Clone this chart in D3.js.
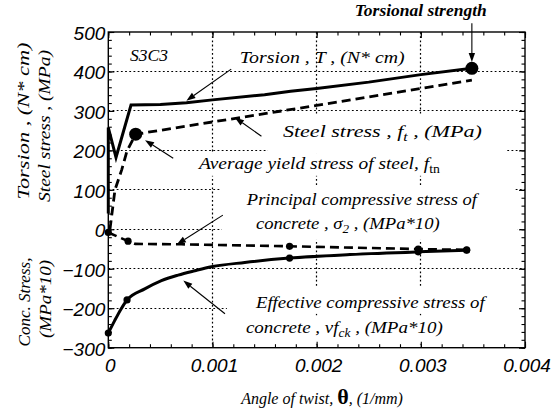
<!DOCTYPE html>
<html>
<head>
<meta charset="utf-8">
<script src="https://cdn.jsdelivr.net/npm/d3@7/dist/d3.min.js"></script>
</head>
<body style="margin:0;background:#fff">
<svg id="chart" width="553" height="415" style="display:block"></svg>
<script>
// ---- data: angle of twist θ (1/mm) vs. value ----
const xTicks = [0, 0.001, 0.002, 0.003, 0.004];
const xTickLabels = ["0", "0.001", "0.002", "0.003", "0.004"];
const yTicks = [500, 400, 300, 200, 100, 0, -100, -200, -300];
const yTickLabels = ["500", "400", "300", "200", "100", "0", "\u2212100", "\u2212200", "\u2212300"];

// Torsion T (N*cm)
const torsionTheta = [0, 0, 0.000074, 0.000218, 0.0005, 0.00075, 0.001, 0.0015, 0.00175, 0.002, 0.0025, 0.003, 0.00349];
const torsionValue = [40, 258, 182, 315, 316, 321, 328, 341, 350, 357, 373, 392, 408];

// Steel stress f_t (MPa)
const steelTheta = [0.000016, 0.000064, 0.00013, 0.00018, 0.000263, 0.001, 0.002, 0.003, 0.00349];
const steelValue = [0, 100, 152, 199, 241, 272, 314, 357, 378];

// Principal compressive stress of concrete σ2 (MPa*10)
const sigma2Theta = [0, 0.00019, 0.00026, 0.0007, 0.00174, 0.002975, 0.00344];
const sigma2Value = [-8, -30, -37, -38, -43, -50, -52];
const sigma2MarkerIdx = [0, 1, 4, 5, 6];

// Effective compressive stress of concrete vf_ck (MPa*10)
const effTheta = [0, 0.00006, 0.00012, 0.00018, 0.00035, 0.00051, 0.00067, 0.00083, 0.00099, 0.00131, 0.00174, 0.00232, 0.002975, 0.00344];
const effValue = [-263, -232, -203, -179, -151, -130, -116, -105, -95, -84, -73, -64, -57, -53];
const effMarkerIdx = [0, 3, 10, 12, 13];

// Highlighted points
const yieldPoint = [0.000263, 241];      // average yield stress of steel
const strengthPoint = [0.00349, 408];    // torsional strength

const zip = (a, b) => a.map((v, i) => [v, b[i]]);

// ---- layout ----
const svg = d3.select("#chart");
const X0 = 108.3, X1 = 525, Y0 = 347.7, Y1 = 32;
const x = d3.scaleLinear().domain([0, 0.004]).range([X0, X1]);
const y = d3.scaleLinear().domain([-300, 500]).range([Y0, Y1]);
const SERIF = "Liberation Serif";
const SANS = "Liberation Sans";
const px5 = v => Math.round(v - 0.5) + 0.5;

// dotted grid
function gridLine(x1, y1, x2, y2) {
  svg.append("line").attr("x1", x1).attr("y1", y1).attr("x2", x2).attr("y2", y2)
    .attr("stroke", "#000").attr("stroke-width", 1.2).attr("stroke-dasharray", "1.8,2.4");
}
xTicks.slice(1, -1).forEach(d => gridLine(px5(x(d)), Y1, px5(x(d)), Y0));
yTicks.slice(1, -1).forEach(d => gridLine(X0, px5(y(d)), X1, px5(y(d))));

// label layer (white boxes hide grid behind text)
const labelLayer = svg.append("g");

// axes with inward ticks
const xMinor = d3.range(0, 0.0040001, 0.0002);
const yMinor = d3.range(-300, 500.1, 20);
function axisSet(axisFn, scale, ticks, size, transform) {
  svg.append("g").attr("transform", transform)
    .call(axisFn(scale).tickValues(ticks).tickSize(-size).tickFormat(""))
    .call(g => g.select(".domain").remove())
    .call(g => g.selectAll("line").attr("stroke", "#000").attr("stroke-width", 1.1));
}
axisSet(d3.axisBottom, x, xTicks, 6, `translate(0,${Y0})`);
axisSet(d3.axisBottom, x, xMinor, 3.5, `translate(0,${Y0})`);
axisSet(d3.axisTop, x, xTicks, 6, `translate(0,${Y1})`);
axisSet(d3.axisTop, x, xMinor, 3.5, `translate(0,${Y1})`);
axisSet(d3.axisLeft, y, yTicks, 6, `translate(${X0},0)`);
axisSet(d3.axisLeft, y, yMinor, 3.5, `translate(${X0},0)`);
axisSet(d3.axisRight, y, yTicks, 6, `translate(${X1},0)`);
axisSet(d3.axisRight, y, yMinor, 3.5, `translate(${X1},0)`);

svg.append("rect").attr("x", X0).attr("y", Y1).attr("width", X1 - X0).attr("height", Y0 - Y1)
  .attr("fill", "none").attr("stroke", "#000").attr("stroke-width", 1.4);

// tick labels
xTicks.forEach((d, i) => {
  svg.append("text").attr("font-family", SANS).attr("font-style", "italic").attr("font-size", 19)
    .attr("x", x(d) + 2).attr("y", Y0 + 24).attr("text-anchor", "middle").text(xTickLabels[i]);
});
yTicks.forEach((d, i) => {
  svg.append("text").attr("font-family", SANS).attr("font-style", "italic").attr("font-size", 19)
    .attr("x", X0 - 3).attr("y", y(d) + 8).attr("text-anchor", "end").text(yTickLabels[i]);
});

// ---- series ----
const line = d3.line().x(d => x(d[0])).y(d => y(d[1]));
const smooth = d3.line().x(d => x(d[0])).y(d => y(d[1])).curve(d3.curveMonotoneX);

svg.append("path").datum(zip(effTheta, effValue)).attr("d", smooth)
  .attr("fill", "none").attr("stroke", "#000").attr("stroke-width", 3);
svg.append("path").datum(zip(sigma2Theta, sigma2Value)).attr("d", line)
  .attr("fill", "none").attr("stroke", "#000").attr("stroke-width", 2.6)
  .attr("stroke-dasharray", "9,5");
svg.append("path").datum(zip(steelTheta, steelValue)).attr("d", line)
  .attr("fill", "none").attr("stroke", "#000").attr("stroke-width", 2.8)
  .attr("stroke-dasharray", "9,5");
svg.append("path").datum(zip(torsionTheta, torsionValue)).attr("d", line)
  .attr("fill", "none").attr("stroke", "#000").attr("stroke-width", 3)
  .attr("stroke-linejoin", "miter");

sigma2MarkerIdx.forEach(i => svg.append("circle")
  .attr("cx", x(sigma2Theta[i])).attr("cy", y(sigma2Value[i])).attr("r", 3.6).attr("fill", "#000"));
effMarkerIdx.forEach(i => svg.append("circle")
  .attr("cx", x(effTheta[i])).attr("cy", y(effValue[i])).attr("r", 3.6).attr("fill", "#000"));
[yieldPoint, strengthPoint].forEach(d => svg.append("circle")
  .attr("cx", x(d[0])).attr("cy", y(d[1])).attr("r", 6.5).attr("fill", "#000"));

// ---- annotation arrows (data coordinates) ----
const arrows = [
  { from: [0.00118, 406], to: [0.00075, 326] },
  { from: [0.00147, 236], to: [0.001216, 283] },
  { from: [0.000623, 180], to: [0.000353, 226] },
  { from: [0.0011, 36], to: [0.000659, -38] },
  { from: [0.00112, -214], to: [0.00072, -130] },
  { from: [0.00349, 522], to: [0.00349, 424] }
];
arrows.forEach(a => {
  const x1 = x(a.from[0]), y1 = y(a.from[1]), x2 = x(a.to[0]), y2 = y(a.to[1]);
  const ang = Math.atan2(y2 - y1, x2 - x1);
  const L = 9, W = 3.2;
  const bx = x2 - L * Math.cos(ang), by = y2 - L * Math.sin(ang);
  svg.append("line").attr("x1", x1).attr("y1", y1).attr("x2", bx).attr("y2", by)
    .attr("stroke", "#000").attr("stroke-width", 1.1);
  svg.append("path")
    .attr("d", `M${x2},${y2}L${bx - W * Math.sin(ang)},${by + W * Math.cos(ang)}L${bx + W * Math.sin(ang)},${by - W * Math.cos(ang)}Z`)
    .attr("fill", "#000");
});

// ---- text labels ----
function addLabel(parent, spec) {
  const g = parent.append("g");
  const t = g.append("text")
    .attr("font-family", SERIF).attr("font-style", "italic")
    .attr("font-size", spec.size || 17).attr("font-weight", spec.bold ? "bold" : "normal");
  spec.parts.forEach(p => {
    const ts = t.append("tspan").text(p.t);
    if (p.sub) ts.attr("font-size", 12).attr("dy", 4).attr("font-style", p.roman ? "normal" : "italic");
    if (p.after) ts.attr("dy", -4);
  });
  if (spec.anchor) t.attr("text-anchor", spec.anchor);
  const w = t.node().getComputedTextLength();
  const sx = spec.width ? spec.width / w : 1;
  const px = spec.px !== undefined ? spec.px : x(spec.at[0]);
  const py = spec.py !== undefined ? spec.py : y(spec.at[1]);
  g.attr("transform", `translate(${px},${py})${spec.rotate ? " rotate(-90)" : ""} scale(${sx},1)`);
  if (spec.pad) {
    const bb = t.node().getBBox();
    const [l, tp, r, b] = spec.pad;
    g.insert("rect", "text").attr("x", bb.x - l / sx).attr("y", bb.y - tp)
      .attr("width", bb.width + (l + r) / sx).attr("height", bb.height + tp + b).attr("fill", "#fff");
  }
}

const labels = [
  { at: [0.000208, 426.5], width: 38, parts: [{ t: "S3C3" }] },
  { at: [0.002366, 540.5], width: 132, bold: true, parts: [{ t: "Torsional strength" }] },
  { at: [0.001263, 421.4], width: 165, parts: [{ t: "Torsion ,  T ,  (N* cm)" }] },
  { at: [0.001676, 233.9], width: 199, pad: [15, 6, 25, 9],
    parts: [{ t: "Steel stress , f" }, { t: "t", sub: true }, { t: "    , (MPa)", after: true }] },
  { at: [0.00087, 152.8], width: 241, pad: [8, 1, 8, 0],
    parts: [{ t: "Average yield stress of steel,  f" }, { t: "tn", sub: true, roman: true }] },
  { at: [0.00133, 61.6], width: 230, pad: [25, 3, 35, 4], parts: [{ t: "Principal compressive stress of" }] },
  { at: [0.001417, 0.8], width: 184, pad: [34, 2, 78, 4],
    parts: [{ t: "concrete , \u03C3" }, { t: "2", sub: true }, { t: " , (MPa*10)", after: true }] },
  { at: [0.001417, -199.4], width: 229, pad: [28, 5, 35, 2], parts: [{ t: "Effective compressive stress of" }] },
  { at: [0.001321, -262.7], width: 197, pad: [18, 2, 77, 4],
    parts: [{ t: "concrete , vf" }, { t: "ck", sub: true }, { t: " , (MPa*10)", after: true }] }
];
labels.forEach(s => addLabel(labelLayer, s));

// axis titles
const titles = svg.append("g");
addLabel(titles, { px: 29, py: 121, rotate: true, anchor: "middle", width: 157, parts: [{ t: "Torsion , (N* cm)" }] });
addLabel(titles, { px: 50, py: 126, rotate: true, anchor: "middle", width: 152, parts: [{ t: "Steel stress , (MPa)" }] });
addLabel(titles, { px: 30, py: 302, rotate: true, anchor: "middle", width: 89, parts: [{ t: "Conc. Stress," }] });
addLabel(titles, { px: 51, py: 299, rotate: true, anchor: "middle", width: 78, parts: [{ t: "(MPa*10)" }] });

const xt = svg.append("text").attr("x", 322).attr("y", 404).attr("text-anchor", "middle")
  .attr("font-family", SERIF).attr("font-style", "italic").attr("font-size", 16);
xt.append("tspan").text("Angle of twist, ");
xt.append("tspan").text("\u03B8").attr("font-weight", "bold").attr("font-size", 22).attr("font-style", "normal");
xt.append("tspan").text(", (1/mm)");
</script>
</body>
</html>
